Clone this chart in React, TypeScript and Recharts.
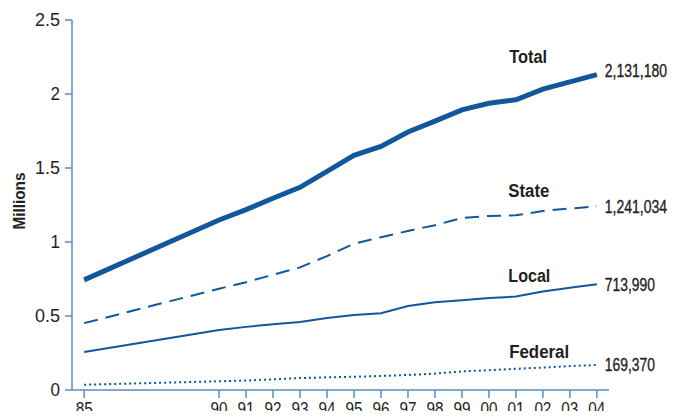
import { LineChart, Line, XAxis, YAxis, ReferenceDot, LabelList } from 'recharts'

const years = [1985, 1990, 1991, 1992, 1993, 1994, 1995, 1996, 1997, 1998, 1999, 2000, 2001, 2002, 2003, 2004]
const total = [744208, 1148702, 1219014, 1295150, 1369185, 1476621, 1585586, 1646020, 1743643, 1816931, 1893115, 1937482, 1961247, 2033022, 2081580, 2131180]
const state = [451812, 684544, 728605, 778495, 828566, 904647, 989004, 1032440, 1074809, 1113676, 1161490, 1176269, 1180155, 1209640, 1226175, 1241034]
const local = [256615, 405320, 426479, 444584, 459804, 486474, 507044, 518492, 567079, 592462, 605943, 621149, 631240, 665475, 691301, 713990]
const federal = [35781, 58838, 63930, 72071, 80815, 85500, 89538, 95088, 101755, 110793, 125682, 133921, 143337, 151618, 161673, 169370]

const xTicks = [1985, 1990, 1991, 1992, 1993, 1994, 1995, 1996, 1997, 1998, 1999, 2000, 2001, 2002, 2003, 2004]
const yTicks = [0, 0.5, 1, 1.5, 2, 2.5]

// name label anchors: [name, year, millions, width px]
const seriesNames: [string, number, number, number][] = [
  ['Total', 2000.75, 2.255, 38],
  ['State', 2000.72, 1.345, 41],
  ['Local', 2000.72, 0.775, 42],
  ['Federal', 2000.75, 0.258, 60],
]

const LINE = '#11579b'
const AXIS = '#5a8cc2'
const TEXT = '#231f20'
const FONT = '"Liberation Sans", Arial, sans-serif'

const data = years.map((y, i) => ({
  year: y,
  total: total[i] / 1e6,
  state: state[i] / 1e6,
  local: local[i] / 1e6,
  federal: federal[i] / 1e6,
}))

const last = data.length - 1

// the source uses a condensed face, so squeeze glyphs to its widths
const squeeze = (s: string, digit: number, punct: number) =>
  s.split('').reduce((w, ch) => w + (/[0-9]/.test(ch) ? digit : punct), 0)

const endLabel = (raw: number[], lift = 0) => (props: any) => {
  const { x, y, index } = props
  if (index !== last) return null
  const s = raw[index].toLocaleString('en-US')
  return (
    <text x={x + 8} y={y - lift} dy="0.36em" fill={TEXT} stroke={TEXT} strokeWidth={0.35}
      fontFamily={FONT} fontSize={18} textLength={squeeze(s, 7.6, 4.5)} lengthAdjust="spacingAndGlyphs">
      {s}
    </text>
  )
}

const nameLabel = (name: string, width: number) => (props: any) => {
  const { viewBox } = props
  return (
    <text x={viewBox.x} y={viewBox.y} dy="0.36em" fill={TEXT} fontFamily={FONT} fontSize={18} fontWeight={700}
      textLength={width} lengthAdjust="spacingAndGlyphs">
      {name}
    </text>
  )
}

const XTick = (props: any) => {
  const { x, y, payload } = props
  const s = String(payload.value).slice(2)
  return (
    <text x={x} y={y} dy="0.71em" textAnchor="middle" fill={TEXT} fontFamily={FONT} fontSize={18}
      textLength={squeeze(s, 8.5, 5)} lengthAdjust="spacingAndGlyphs">
      {s}
    </text>
  )
}

const YTick = (props: any) => {
  const { x, y, payload } = props
  const s = String(payload.value)
  return (
    <text x={x} y={y} dy="0.36em" textAnchor="end" fill={TEXT} fontFamily={FONT} fontSize={18}
      textLength={squeeze(s, 9.5, 6)} lengthAdjust="spacingAndGlyphs">
      {s}
    </text>
  )
}

const YTitle = () => (
  <text x={19} y={201} transform="rotate(-90 19 201)" textAnchor="middle" dy="0.36em" fill={TEXT}
    fontFamily={FONT} fontSize={16} fontWeight={700} textLength={57} lengthAdjust="spacingAndGlyphs">
    Millions
  </text>
)

export default function App() {
  return (
    <div style={{ margin: -8, width: 684, height: 419, background: '#fff', position: 'relative' }}>
      <LineChart width={684} height={419} data={data} margin={{ top: 20, right: 75, bottom: 0, left: 0 }}>
        <XAxis
          dataKey="year"
          type="number"
          domain={[1984.55, 2004.45]}
          ticks={xTicks}
          interval={0}
          axisLine={{ stroke: AXIS, strokeWidth: 1.5 }}
          tickLine={{ stroke: AXIS, strokeWidth: 1.5 }}
          tickSize={8}
          tickMargin={4}
          tick={<XTick />}
          height={29}
          allowDataOverflow
        />
        <YAxis
          type="number"
          domain={[0, 2.5]}
          ticks={yTicks}
          interval={0}
          axisLine={{ stroke: AXIS, strokeWidth: 1.5 }}
          tickLine={{ stroke: AXIS, strokeWidth: 1.5 }}
          tickSize={7}
          tickMargin={5}
          tick={<YTick />}
          width={72}
          label={<YTitle />}
        />
        <Line type="linear" dataKey="federal" stroke={LINE} strokeWidth={2} strokeDasharray="2 3" dot={false} isAnimationActive={false}>
          <LabelList dataKey="federal" content={endLabel(federal)} />
        </Line>
        <Line type="linear" dataKey="local" stroke={LINE} strokeWidth={2} dot={false} isAnimationActive={false}>
          <LabelList dataKey="local" content={endLabel(local)} />
        </Line>
        <Line type="linear" dataKey="state" stroke={LINE} strokeWidth={2} strokeDasharray="14 8" dot={false} isAnimationActive={false}>
          <LabelList dataKey="state" content={endLabel(state)} />
        </Line>
        <Line type="linear" dataKey="total" stroke={LINE} strokeWidth={5} dot={false} isAnimationActive={false}>
          <LabelList dataKey="total" content={endLabel(total, 4)} />
        </Line>
        {seriesNames.map(([name, x, y, w]) => (
          <ReferenceDot key={name} x={x} y={y} r={0} fill="none" stroke="none" label={nameLabel(name, w)} />
        ))}
      </LineChart>
    </div>
  )
}
